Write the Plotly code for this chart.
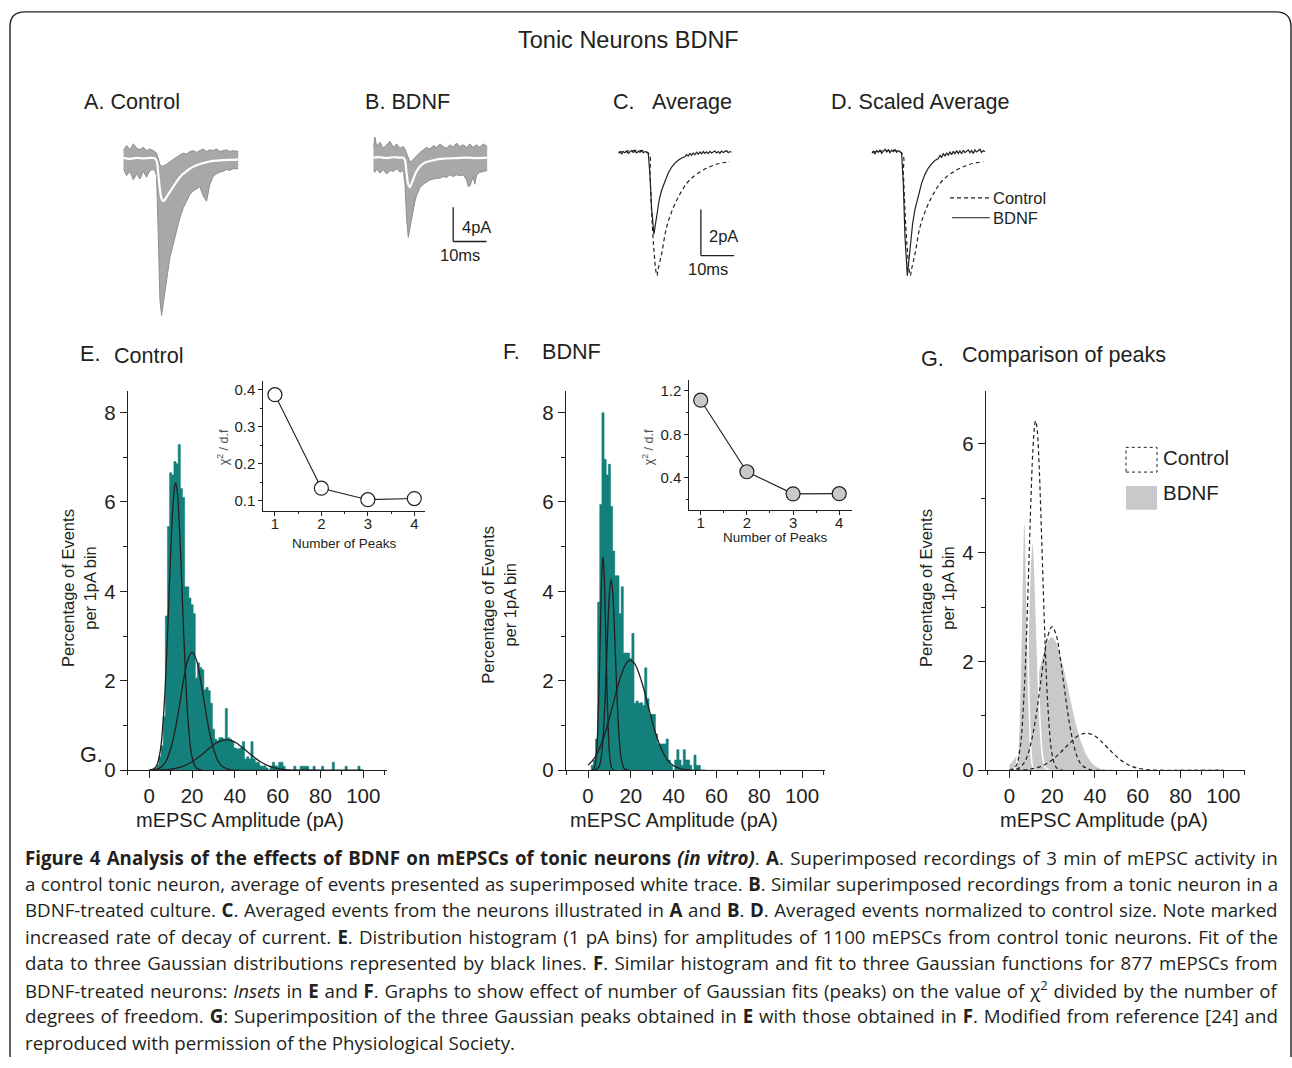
import plotly.graph_objects as go

W, H = 1292, 1068


def fx(p):
    return p / W


def fy(p):
    return 1 - p / H


SANS = "Liberation Sans, Arial, Helvetica, sans-serif"
CAPF = "Open Sans, sans-serif"
INK = "#231f20"
TEAL = "#13807b"
TRACE_EDGE = "#8e8e8e"
TRACE_FILL = "#a8a8a8"
FILL_GREY = "#c8c9cb"

# ---------------- data: panel A/B superimposed recordings (ms, pA) ----------------
TA = [0, 1, 2, 3, 4, 5, 6, 7, 8, 9, 9.5, 10, 10.5, 11, 11.5, 12, 12.5, 13, 14, 15, 16, 17, 18, 19, 20,
      21, 22, 23, 24, 25, 26, 27, 28, 29, 30, 31, 32, 33, 34.5]
A_UPPER = [0.9, 1.5, 1.0, 1.7, 1.2, 1.0, 1.3, 0.9, 1.1, 0.9, 0.8, 0.6, -0.2, -0.7, -0.9, -0.9, -0.8, -0.7,
           -0.4, -0.1, 0.2, 0.4, 0.6, 0.5, 0.8, 0.9, 0.7, 0.9, 1.1, 0.8, 1.0, 0.9, 1.1, 0.8, 0.9, 1.0, 0.8,
           0.9, 0.8]
A_LOWER = [-1.2, -2.0, -1.5, -2.5, -1.8, -2.4, -1.5, -2.2, -1.4, -1.3, -1.5, -2.0, -9.0, -16.5, -18.3,
           -16.9, -15.3, -13.8, -11.5, -10.0, -8.4, -6.9, -5.8, -5.0, -4.2, -3.8, -3.5, -3.3, -4.4, -5.0,
           -3.0, -2.1, -1.8, -1.6, -1.5, -1.3, -1.4, -1.2, -1.2]
TA_AVG = [0, 2, 4, 6, 8, 9.5, 10, 10.5, 11, 11.5, 12, 12.5, 13, 14, 15, 16, 17, 18, 19, 20, 22, 24, 27,
          30, 34.5]
A_AVG = [0.05, -0.05, 0.05, 0.0, 0.05, 0.0, -0.3, -1.8, -3.6, -4.7, -5.0, -4.8, -4.5, -3.9, -3.3, -2.7,
         -2.2, -1.8, -1.5, -1.2, -0.8, -0.55, -0.3, -0.2, -0.15]

TB = [0, 0.5, 1, 2, 3, 4, 5, 6, 7, 8, 9, 9.5, 10, 10.5, 11, 11.5, 12, 12.5, 13, 14, 15, 16, 17, 18, 19,
      20, 21, 22, 23, 24, 25, 26, 27, 28, 28.5, 29, 30, 30.5, 31, 32, 33, 34.2]
B_UPPER = [1.2, 2.4, 1.3, 1.8, 1.1, 1.5, 1.9, 1.2, 1.6, 1.1, 1.3, 1.0, 0.5, -0.2, -0.5, -0.4, -0.2, 0.1,
           0.3, 0.6, 0.9, 1.2, 1.0, 1.4, 1.2, 1.6, 1.3, 1.1, 1.5, 1.2, 1.7, 1.3, 1.5, 1.2, 1.4, 1.6, 1.2,
           1.4, 1.5, 1.2, 1.6, 1.3]
B_LOWER = [-1.4, -1.7, -1.3, -1.8, -1.4, -1.9, -1.5, -1.6, -1.3, -1.7, -1.5, -3.0, -7.0, -9.3, -8.2,
           -7.0, -6.0, -5.1, -4.4, -3.5, -3.1, -2.8, -2.6, -2.5, -2.4, -2.4, -2.2, -2.3, -2.0, -2.2, -2.0,
           -2.1, -2.0, -2.6, -3.35, -3.3, -2.2, -3.1, -2.0, -1.7, -1.6, -1.5]
TB_AVG = [0, 2, 4, 6, 8, 9, 9.5, 10, 10.5, 11, 11.5, 12, 12.5, 13, 14, 15, 16, 17, 18, 20, 22, 25, 28,
          31, 34.2]
B_AVG = [0.0, 0.05, -0.05, 0.05, 0.0, 0.0, -0.3, -1.8, -3.1, -3.45, -3.0, -2.5, -2.0, -1.6, -1.04, -0.7,
         -0.5, -0.39, -0.3, -0.15, -0.1, -0.05, 0.0, -0.05, 0.0]

# ---------------- data: panel C/D averaged events (ms, pA) ----------------
TC = [0, 0.5, 1, 1.5, 2, 2.5, 3, 3.5, 4, 4.5, 5, 5.5, 6, 6.5, 7, 7.5, 8, 8.5, 9, 9.5,
      10, 10.7, 11.5, 12.3, 13, 14, 15, 16, 17, 18, 19, 20,
      20.5, 21, 21.5, 22, 22.5, 23, 23.5, 24, 24.5, 25, 25.5, 26, 26.5, 27, 27.5, 28, 28.5, 29, 29.5,
      30, 30.5, 31, 31.5, 32, 32.5, 33, 33.5, 34]
BDNF_AVG = [0.0, 0.06, -0.02, 0.08, 0.03, 0.1, 0.0, 0.07, 0.12, 0.04, 0.1, 0.02, 0.09, 0.05, 0.11, 0.03,
            0.08, 0.05, 0.0, -0.9,
            -2.4, -3.5, -2.8, -2.0, -1.6, -1.2, -0.85, -0.6, -0.42, -0.3, -0.2, -0.15,
            -0.05, -0.12, 0.0, -0.08, 0.02, -0.06, 0.05, -0.04, 0.06, -0.02, 0.08, 0.0, 0.07, -0.01, 0.09,
            0.02, 0.06, 0.1, 0.02, 0.08, 0.0, 0.1, 0.04, 0.07, 0.12, 0.03, 0.08, 0.05]
TC_CTRL = [0, 9, 9.5, 10, 10.6, 11.2, 11.6, 12, 13, 14.5, 16.5, 19, 21.5, 25.5, 29.5, 33.5]
CTRL_AVG = [0.05, 0.02, -0.9, -2.5, -4.0, -5.0, -5.3, -5.0, -4.36, -3.2, -2.36, -1.64, -1.14, -0.72,
            -0.47, -0.36]

SCALE_PA_AB = 4
SCALE_PA_CD = 2
SCALE_MS = 10

# ---------------- data: histograms (1 pA bins, % of events) ----------------
BINS = list(range(0, 101))
CTRL_PCT = [0, 0, 0, 0.05, 0.12, 0.3, 0.55, 1.2, 3.45, 5.45,
            6.65, 6.6, 6.9, 6.85, 7.28, 6.3, 6.1, 4.1, 4.1, 3.85,
            3.7, 3.5, 2.06, 2.4, 2.3, 2.25, 1.8, 1.85, 1.78, 1.5,
            0.92, 0.7, 0.66, 0.73, 0.73, 0.7, 1.38, 0.73, 0.7, 0.66,
            0.5, 0.48, 0.48, 0.5, 0.64, 0.25, 0.3, 0.25, 0.64, 0.25,
            0.18, 0.18, 0.1, 0.09, 0.1, 0.05, 0, 0.09, 0.18, 0.1,
            0.09, 0.18, 0.18, 0.09, 0, 0, 0, 0, 0.09, 0,
            0, 0.09, 0.09, 0.09, 0.09, 0, 0, 0.09, 0, 0,
            0, 0.09, 0, 0, 0, 0, 0.18, 0, 0, 0,
            0, 0, 0.09, 0, 0, 0, 0, 0, 0.09, 0,
            0]
BDNF_PCT = [0, 0, 0.11, 0.23, 0.7, 3.76, 5.94, 7.99, 6.95, 6.6,
            6.84, 5.9, 4.9, 4.35, 4.35, 3.5, 4.1, 2.62, 2.62, 2.62,
            2.5, 3.06, 1.5, 1.55, 1.5, 1.51, 1.45, 2.29, 1.6, 1.25,
            1.25, 1.25, 0.81, 0.59, 0.59, 0.59, 0.59, 0.7, 0.23, 0.11,
            0, 0.23, 0.46, 0.23, 0.11, 0.46, 0.23, 0.23, 0.11, 0,
            0.34, 0.11, 0.11, 0, 0, 0, 0, 0, 0, 0,
            0, 0, 0, 0, 0, 0, 0, 0, 0, 0,
            0, 0, 0, 0, 0, 0, 0, 0, 0, 0,
            0, 0, 0, 0, 0, 0, 0, 0, 0, 0,
            0, 0, 0, 0, 0, 0, 0, 0, 0, 0,
            0]

# Gaussian fit curves (pA, % per bin)
CTRL_G1_X = [0, 3, 5, 7, 8, 9, 10, 11, 12, 12.3, 13, 14, 15, 16, 17, 18, 20, 22, 25, 100]
CTRL_G1_Y = [0.0, 0.07, 0.40, 1.49, 2.45, 3.64, 4.87, 5.88, 6.39, 6.42, 6.26, 5.52, 4.39, 3.15, 2.04,
             1.18, 0.29, 0.05, 0.0, 0.0]
CTRL_G2_X = [0, 4, 6, 8, 10, 12, 14, 16, 18, 20, 22, 24, 26, 28, 30, 32, 34, 38, 42, 100]
CTRL_G2_Y = [0.0, 0.03, 0.09, 0.22, 0.48, 0.88, 1.42, 2.01, 2.47, 2.64, 2.47, 2.01, 1.42, 0.88, 0.48,
             0.22, 0.09, 0.01, 0.0, 0.0]
CTRL_G3_X = [0, 5, 10, 15, 20, 24, 28, 32, 36, 40, 44, 48, 52, 56, 60, 65, 70, 80, 100]
CTRL_G3_Y = [0.0, 0.006, 0.023, 0.075, 0.19, 0.33, 0.49, 0.63, 0.68, 0.63, 0.49, 0.33, 0.19, 0.092,
             0.038, 0.01, 0.002, 0.0, 0.0]
BDNF_G1_X = [2, 3, 4, 4.5, 5, 5.5, 6, 6.5, 7, 7.5, 8, 8.5, 9, 9.5, 10, 11, 12]
BDNF_G1_Y = [0.005, 0.06, 0.40, 0.86, 1.59, 2.57, 3.63, 4.45, 4.77, 4.45, 3.63, 2.57, 1.59, 0.86, 0.40,
             0.06, 0.005]
BDNF_G2_X = [3, 5, 6, 7, 8, 9, 10, 10.8, 11.5, 12.5, 13.5, 14.5, 15.5, 17, 19]
BDNF_G2_Y = [0.002, 0.064, 0.24, 0.70, 1.60, 2.85, 3.94, 4.27, 4.02, 2.98, 1.72, 0.77, 0.27, 0.035, 0.001]
BDNF_G3_X = [0, 3, 6, 9, 12, 15, 18, 19.8, 22, 25, 28, 31, 34, 37, 40, 44, 48, 55]
BDNF_G3_Y = [0.115, 0.27, 0.56, 0.99, 1.53, 2.05, 2.40, 2.46, 2.37, 1.99, 1.46, 0.92, 0.51, 0.24, 0.10,
             0.025, 0.005, 0.0]

# Insets: chi^2 / d.f. versus number of Gaussian peaks
N_PEAKS = [1, 2, 3, 4]
CTRL_CHI = [0.387, 0.134, 0.103, 0.106]
BDNF_CHI = [1.115, 0.455, 0.251, 0.253]

CAPTION_LINES = [
    "<b>Figure 4 Analysis of the effects of BDNF on mEPSCs of tonic neurons <i>(in vitro)</i></b>. "
    "<b>A</b>. Superimposed recordings of 3 min of mEPSC activity in",
    "a control tonic neuron, average of events presented as superimposed white trace. <b>B</b>. "
    "Similar superimposed recordings from a tonic neuron in a",
    "BDNF-treated culture. <b>C</b>. Averaged events from the neurons illustrated in <b>A</b> and "
    "<b>B</b>. <b>D</b>. Averaged events normalized to control size. Note marked",
    "increased rate of decay of current. <b>E</b>. Distribution histogram (1 pA bins) for amplitudes "
    "of 1100 mEPSCs from control tonic neurons. Fit of the",
    "data to three Gaussian distributions represented by black lines. <b>F</b>. Similar histogram and "
    "fit to three Gaussian functions for 877 mEPSCs from",
    "BDNF-treated neurons: <i>Insets</i> in <b>E</b> and <b>F</b>. Graphs to show effect of number of "
    "Gaussian fits (peaks) on the value of χ<sup>2</sup> divided by the number of",
    "degrees of freedom. <b>G</b>: Superimposition of the three Gaussian peaks obtained in <b>E</b> "
    "with those obtained in <b>F</b>. Modified from reference [24] and",
    "reproduced with permission of the Physiological Society.",
]
# extra word spacing (px) that justifies each caption line to the right margin
CAPTION_WORD_SPACING = [1.5, 0.55, 0.7, 1.45, 1.4, 0.9, 1.05, 0]

# ---------------- figure ----------------
fig = go.Figure()

PX_MS = 3.33


def trace_axes(px0, px1, py_top, py_bot, py_base, px_pa):
    xa = dict(domain=[fx(px0), fx(px1)], range=[0, (px1 - px0) / PX_MS], visible=False, fixedrange=True)
    ya = dict(domain=[fy(py_bot), fy(py_top)],
              range=[-(py_bot - py_base) / px_pa, (py_base - py_top) / px_pa], visible=False,
              fixedrange=True)
    return xa, ya


axes = {}
axes["xaxis"], axes["yaxis"] = trace_axes(123.3, 240, 136, 326, 160, 8.67)
axes["xaxis2"], axes["yaxis2"] = trace_axes(373.3, 490, 130, 330, 159.3, 8.67)
axes["xaxis3"], axes["yaxis3"] = trace_axes(618.3, 737, 140, 290, 155, 23.3)
axes["xaxis4"], axes["yaxis4"] = trace_axes(871.7, 990, 140, 290, 155, 23.3)
for i in ["", "2", "3", "4"]:
    axes["xaxis" + i]["anchor"] = "y" + i
    axes["yaxis" + i]["anchor"] = "x" + i

TICKF = dict(family=SANS, size=20.5, color=INK)


def hist_axes(px0, px1, xr, py_top, py_bot, yr, xid, yid):
    xa = dict(domain=[fx(px0), fx(px1)], range=xr, anchor=yid, showline=True, linecolor=INK, linewidth=1.3,
              ticks="outside", ticklen=7, tickwidth=1.3, tickcolor=INK, tickmode="linear", tick0=0, dtick=20,
              minor=dict(ticks="outside", dtick=10, ticklen=4, tickwidth=1.3, tickcolor=INK),
              showgrid=False, zeroline=False, tickfont=TICKF, fixedrange=True, layer="above traces")
    ya = dict(domain=[fy(py_bot), fy(py_top)], range=yr, anchor=xid, showline=True, linecolor=INK,
              linewidth=1.3, ticks="outside", ticklen=7, tickwidth=1.3, tickcolor=INK, tickmode="linear",
              tick0=0, dtick=2, minor=dict(ticks="outside", dtick=1, ticklen=4, tickwidth=1.3, tickcolor=INK),
              showgrid=False, zeroline=False, tickfont=TICKF, fixedrange=True, layer="above traces")
    return xa, ya


axes["xaxis5"], axes["yaxis5"] = hist_axes(127.9, 386.8, [-10, 111], 395, 778.3, [0, 8.48], "x5", "y5")
axes["xaxis7"], axes["yaxis7"] = hist_axes(566, 825, [-10.28, 110.75], 395, 778.3, [0, 8.48], "x7", "y7")
axes["xaxis9"], axes["yaxis9"] = hist_axes(986, 1245, [-10.9, 110.1], 395, 778.3, [0, 6.97], "x9", "y9")

INSF = dict(family=SANS, size=15, color=INK)


def inset_axes(px0, px1, xr, py_top, py_bot, yr, y0, ydt, yminor, xid, yid):
    xa = dict(domain=[fx(px0), fx(px1)], range=xr, anchor=yid, showline=True, linecolor=INK, linewidth=1,
              ticks="outside", ticklen=4, tickwidth=1, tickcolor=INK, tickmode="linear", tick0=1, dtick=1,
              ticklabelstandoff=-5,
              minor=dict(ticks="outside", dtick=0.5, ticklen=2, tickwidth=1, tickcolor=INK),
              showgrid=False, zeroline=False, tickfont=INSF, fixedrange=True)
    ya = dict(domain=[fy(py_bot), fy(py_top)], range=yr, anchor=xid, showline=True, linecolor=INK,
              linewidth=1, ticks="outside", ticklen=4, tickwidth=1, tickcolor=INK, tickmode="linear",
              tick0=y0, dtick=ydt, tickformat=".1f",
              minor=dict(ticks="outside", dtick=yminor, ticklen=2, tickwidth=1, tickcolor=INK),
              showgrid=False, zeroline=False, tickfont=INSF, fixedrange=True)
    return xa, ya


axes["xaxis6"], axes["yaxis6"] = inset_axes(263.3, 425, [0.75, 4.23], 385, 516, [0.0732, 0.424],
                                            0.1, 0.1, 0.05, "x6", "y6")
axes["xaxis8"], axes["yaxis8"] = inset_axes(689.3, 851.7, [0.753, 4.27], 384.3, 515, [0.105, 1.298],
                                            0.4, 0.4, 0.2, "x8", "y8")

# ---- A / B recordings ----
for (t, up, lo, ta, av, ax) in [(TA, A_UPPER, A_LOWER, TA_AVG, A_AVG, ""),
                                (TB, B_UPPER, B_LOWER, TB_AVG, B_AVG, "2")]:
    fig.add_trace(go.Scatter(x=t, y=up, xaxis="x" + ax, yaxis="y" + ax, mode="lines",
                             line=dict(color=TRACE_EDGE, width=1), hoverinfo="skip"))
    fig.add_trace(go.Scatter(x=t, y=lo, xaxis="x" + ax, yaxis="y" + ax, mode="lines", fill="tonexty",
                             fillcolor=TRACE_FILL, line=dict(color=TRACE_EDGE, width=1), hoverinfo="skip"))
    fig.add_trace(go.Scatter(x=ta, y=av, xaxis="x" + ax, yaxis="y" + ax, mode="lines",
                             line=dict(color="white", width=2.2, shape="spline"), hoverinfo="skip"))

# ---- C: averages ----
fig.add_trace(go.Scatter(x=TC_CTRL, y=CTRL_AVG, xaxis="x3", yaxis="y3", mode="lines",
                         line=dict(color=INK, width=1.2, dash="4px,3px", shape="spline"), hoverinfo="skip"))
fig.add_trace(go.Scatter(x=TC, y=BDNF_AVG, xaxis="x3", yaxis="y3", mode="lines",
                         line=dict(color=INK, width=1.2), hoverinfo="skip"))
# ---- D: BDNF average normalised to control peak ----
norm = min(CTRL_AVG) / min(BDNF_AVG)
BDNF_SCALED = [v * norm for v in BDNF_AVG]
fig.add_trace(go.Scatter(x=TC_CTRL, y=CTRL_AVG, xaxis="x4", yaxis="y4", mode="lines",
                         line=dict(color=INK, width=1.2, dash="4px,3px", shape="spline"), hoverinfo="skip"))
fig.add_trace(go.Scatter(x=TC, y=BDNF_SCALED, xaxis="x4", yaxis="y4", mode="lines",
                         line=dict(color=INK, width=1.2), hoverinfo="skip"))

# ---- E histogram (1 pA bins drawn as a stepped, filled outline) ----
fig.add_trace(go.Scatter(x=BINS, y=CTRL_PCT, xaxis="x5", yaxis="y5", mode="lines", fill="tozeroy",
                         fillcolor=TEAL, line=dict(color=TEAL, width=0.6, shape="hvh"), hoverinfo="skip"))
for gx, gy in [(CTRL_G1_X, CTRL_G1_Y), (CTRL_G2_X, CTRL_G2_Y), (CTRL_G3_X, CTRL_G3_Y)]:
    fig.add_trace(go.Scatter(x=gx, y=gy, xaxis="x5", yaxis="y5", mode="lines",
                             line=dict(color=INK, width=1.3, shape="spline"), hoverinfo="skip"))
fig.add_trace(go.Scatter(x=N_PEAKS, y=CTRL_CHI, xaxis="x6", yaxis="y6", mode="lines+markers",
                         line=dict(color=INK, width=1.1),
                         marker=dict(size=14, color="white", line=dict(color=INK, width=1.2)), hoverinfo="skip"))

# ---- F histogram ----
fig.add_trace(go.Scatter(x=BINS, y=BDNF_PCT, xaxis="x7", yaxis="y7", mode="lines", fill="tozeroy",
                         fillcolor=TEAL, line=dict(color=TEAL, width=0.6, shape="hvh"), hoverinfo="skip"))
for gx, gy in [(BDNF_G1_X, BDNF_G1_Y), (BDNF_G2_X, BDNF_G2_Y), (BDNF_G3_X, BDNF_G3_Y)]:
    fig.add_trace(go.Scatter(x=gx, y=gy, xaxis="x7", yaxis="y7", mode="lines",
                             line=dict(color=INK, width=1.3, shape="spline"), hoverinfo="skip"))
fig.add_trace(go.Scatter(x=N_PEAKS, y=BDNF_CHI, xaxis="x8", yaxis="y8", mode="lines+markers",
                         line=dict(color=INK, width=1.1),
                         marker=dict(size=14, color=FILL_GREY, line=dict(color=INK, width=1.2)), hoverinfo="skip"))

# ---- G comparison ----
for gx, gy in [(BDNF_G3_X, BDNF_G3_Y), (BDNF_G2_X, BDNF_G2_Y), (BDNF_G1_X, BDNF_G1_Y)]:
    fig.add_trace(go.Scatter(x=gx, y=gy, xaxis="x9", yaxis="y9", mode="lines", fill="tozeroy",
                             fillcolor=FILL_GREY, line=dict(color="white", width=1.5, shape="spline"),
                             hoverinfo="skip"))
for gx, gy in [(CTRL_G1_X, CTRL_G1_Y), (CTRL_G2_X, CTRL_G2_Y), (CTRL_G3_X, CTRL_G3_Y)]:
    fig.add_trace(go.Scatter(x=gx, y=gy, xaxis="x9", yaxis="y9", mode="lines",
                             line=dict(color=INK, width=1.2, dash="4px,3px", shape="spline"), hoverinfo="skip"))

# ---------------- shapes ----------------
shapes = []


def pline(x0, y0, x1, y1, dash="solid", w=1.2):
    shapes.append(dict(type="line", xref="paper", yref="paper", x0=fx(x0), y0=fy(y0), x1=fx(x1), y1=fy(y1),
                       line=dict(color=INK, width=w, dash=dash)))


def scalebar(xr, yr, t, top, pa, ms):
    shapes.append(dict(type="line", xref=xr, yref=yr, x0=t, y0=top, x1=t, y1=top - pa,
                       line=dict(color=INK, width=1.3)))
    shapes.append(dict(type="line", xref=xr, yref=yr, x0=t, y0=top - pa, x1=t + ms, y1=top - pa,
                       line=dict(color=INK, width=1.3)))


scalebar("x2", "y2", 24.0, -5.77, SCALE_PA_AB, SCALE_MS)
scalebar("x3", "y3", 24.8, -2.43, SCALE_PA_CD, SCALE_MS)
pline(950, 200, 990, 200, dash="4px,3px")
pline(952, 220, 990, 220)

# G legend boxes
shapes.append(dict(type="rect", xref="paper", yref="paper", x0=fx(1126), y0=fy(477), x1=fx(1157), y1=fy(452),
                   fillcolor="white", line=dict(color=INK, width=1, dash="dot")))
shapes.append(dict(type="rect", xref="paper", yref="paper", x0=fx(1126), y0=fy(515), x1=fx(1157), y1=fy(491),
                   fillcolor=FILL_GREY, line=dict(width=0)))

# frame
path = (f"M {fx(10)},{fy(1068)} L {fx(10)},{fy(27)} Q {fx(10)},{fy(12)} {fx(25)},{fy(12)} "
        f"L {fx(1276)},{fy(12)} Q {fx(1291)},{fy(12)} {fx(1291)},{fy(27)} L {fx(1291)},{fy(1068)}")
shapes.append(dict(type="path", xref="paper", yref="paper", path=path, line=dict(color=INK, width=1.4)))

# ---------------- annotations ----------------
ann = []


def txt(s, x, y, size, xanchor="left", family=SANS, color=INK, angle=0):
    ann.append(dict(text=s, x=fx(x), y=fy(y), xref="paper", yref="paper", xanchor=xanchor, yanchor="middle",
                    showarrow=False, font=dict(family=family, size=size, color=color), textangle=angle,
                    borderpad=0))


txt("Tonic Neurons BDNF", 628, 40, 23.5, "center")
txt("A. Control", 83, 103, 21.6)
txt("B. BDNF", 364, 103, 21.6)
txt("C.", 612, 103, 21.6)
txt("Average", 651, 103, 21.6)
txt("D. Scaled Average", 830, 103, 21.6)
txt("4pA", 476, 229, 16.5, "center")
txt("10ms", 460, 258, 16.5, "center")
txt("2pA", 723, 238, 16.5, "center")
txt("10ms", 708, 272, 16.5, "center")
txt("Control", 992, 200, 16.5)
txt("BDNF", 992, 220, 16.5)

txt("E.", 79, 357, 21.6)
txt("Control", 113, 359, 21.6)
txt("F.", 502, 355, 21.6)
txt("BDNF", 541, 355, 21.6)
txt("G.", 920, 362, 21.6)
txt("Comparison of peaks", 961, 358, 21.6)
txt("G.", 79, 762, 21.6)

for cx, cy in [(79, 594), (499, 611), (937, 594)]:
    txt("Percentage of Events<br>per 1pA bin", cx, cy, 16.5, "center", angle=-90)
for cx in [240, 674, 1104]:
    txt("mEPSC Amplitude (pA)", cx, 829, 20, "center")

txt("Number of Peaks", 344, 549, 13.5, "center")
txt("Number of Peaks", 775, 543, 13.5, "center")
txt("χ<sup>2</sup> / d.f", 223, 452, 12.5, "center", color="#555555", angle=-90)
txt("χ<sup>2</sup> / d.f", 648, 452, 12.5, "center", color="#555555", angle=-90)

txt("Control", 1162, 462, 20.5)
txt("BDNF", 1162, 498, 20.5)

for i, line in enumerate(CAPTION_LINES):
    ws = CAPTION_WORD_SPACING[i]
    s = f'<span style="word-spacing:{ws}px">{line}</span>' if ws else line
    txt(s, 24, 866 + i * 26.7, 18.7, "left", family=CAPF)

fig.update_layout(width=W, height=H, margin=dict(l=0, r=0, t=0, b=0), autosize=False,
                  paper_bgcolor="white", plot_bgcolor="rgba(0,0,0,0)", showlegend=False, hovermode=False,
                  shapes=shapes, annotations=ann, **axes)

fig.write_html("out.html", config={"displayModeBar": False},
               post_script="document.body.style.margin='0';document.body.style.overflow='hidden';")
